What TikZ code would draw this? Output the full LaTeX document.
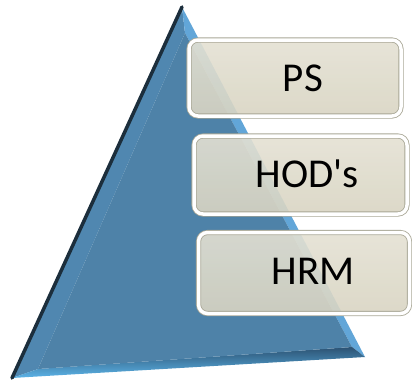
\documentclass[tikz,border=0pt]{standalone}
\usepackage{fontspec}
\setmainfont[Ligatures=NoCommon]{Carlito}
\definecolor{triin}{HTML}{4E82A8}
\definecolor{trileft}{HTML}{5087B0}
\definecolor{triright}{HTML}{62A6D8}
\definecolor{tridark}{HTML}{1C2E3C}
\definecolor{tribotin}{HTML}{2C5272}
\definecolor{tribotout}{HTML}{5CB4E8}
\definecolor{boxtop}{HTML}{E4E1D3}
\definecolor{boxbot}{HTML}{D8D4C2}
\definecolor{boxedge}{HTML}{A9A796}
\begin{document}
\begin{tikzpicture}[x=1pt,y=-1pt,
  box/.style={draw=boxedge, line width=0.8pt, double=white, double distance=3.5pt,
    rounded corners=9pt, top color=boxtop, bottom color=boxbot, fill opacity=0.9,
    text opacity=1, inner sep=0pt},
  lbl/.style={font=\fontsize{41}{48}\selectfont, text=black}]
\useasboundingbox (0,0) rectangle (412,383);
\coordinate (A) at (182,7);
\coordinate (B) at (12,378);
\coordinate (C) at (365,357);
\coordinate (Ai) at (185,33);
\coordinate (Bi) at (38,369);
\coordinate (Ci) at (352,347);
% facets
\fill[trileft] (A) -- (B) -- (Bi) -- (Ai) -- cycle;
\fill[triright] (A) -- (Ai) -- (Ci) -- (C) -- cycle;
\shade[top color=tribotin, bottom color=tribotout] (B) -- (C) -- (Ci) -- (Bi) -- cycle;
\fill[triin] (Ai) -- (Bi) -- (Ci) -- cycle;
\draw[tridark, line width=3.5pt, line cap=round] (A) -- (B);
% boxes
\node[box, minimum width=212pt, minimum height=76pt] (ps) at (295,78) {};
\node[box, minimum width=213pt, minimum height=78pt] (hod) at (300.5,175) {};
\node[box, minimum width=211pt, minimum height=81pt] (hrm) at (304,273) {};
\node[lbl] (tps) at (303,78) {PS};
\node[lbl] (thod) at (307,174) {HOD\textquotesingle s};
\node[lbl] (thrm) at (313,271) {HRM};
\end{tikzpicture}
\end{document}
